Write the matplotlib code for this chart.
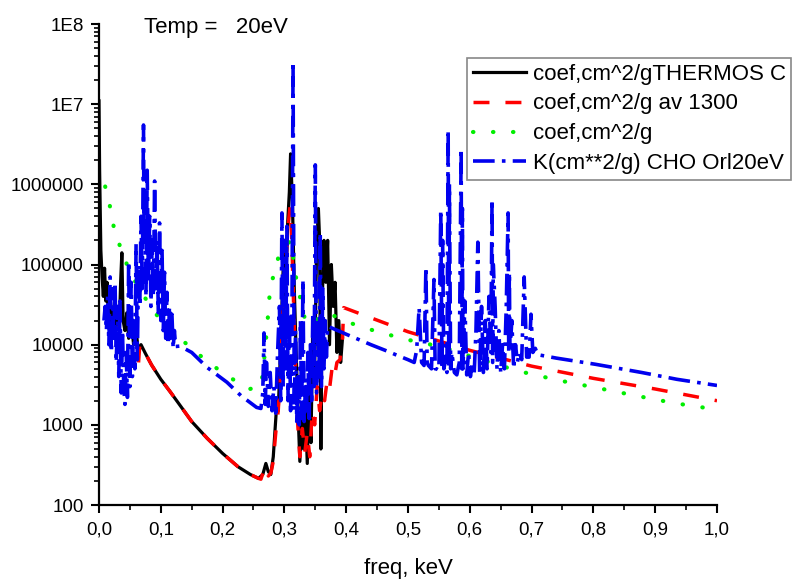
import numpy as np
import matplotlib
matplotlib.use('Agg')
import matplotlib.pyplot as plt
from matplotlib.ticker import FixedLocator, MultipleLocator, LogLocator, NullFormatter

plt.rcParams['font.family'] = ['Liberation Sans', 'DejaVu Sans']

# values, (freq keV, coef cm^2/g)
thermos = [(0.000, 1.1e7), (0.001, 1.5e6), (0.003, 1.5e5), (0.005, 7e4), (0.007, 4e4), (0.009, 9e4),
           (0.011, 3.5e4), (0.013, 6e4), (0.015, 2.5e4), (0.018, 4e4), (0.021, 1.8e4), (0.024, 3e4),
           (0.027, 1.5e4), (0.030, 2.5e4), (0.033, 1.8e4), (0.035, 6e4), (0.037, 1.4e5), (0.039, 2e4),
           (0.042, 1.5e4), (0.045, 2.5e4), (0.048, 1.2e4), (0.052, 2e4), (0.056, 1e4), (0.060, 1.5e4),
           (0.064, 8e3), (0.068, 1e4), (0.075, 7800), (0.085, 5600), (0.100, 3700), (0.115, 2600),
           (0.130, 1800), (0.150, 1100), (0.175, 680), (0.200, 440), (0.225, 300), (0.245, 240),
           (0.258, 215), (0.265, 240), (0.270, 330), (0.274, 260), (0.278, 240), (0.282, 400),
           (0.285, 900), (0.288, 2000), (0.290, 1500), (0.293, 6000), (0.296, 3e4), (0.299, 1.5e5),
           (0.302, 4e4), (0.305, 3e5), (0.308, 8e5), (0.310, 2.4e6), (0.313, 6e5), (0.316, 5e4),
           (0.319, 8000), (0.322, 1500), (0.325, 350), (0.328, 1200), (0.331, 500), (0.334, 1800),
           (0.337, 330), (0.340, 3000), (0.343, 600), (0.346, 2e4), (0.349, 5000), (0.352, 1.5e5),
           (0.355, 5e5), (0.357, 2e5), (0.359, 500), (0.361, 3e4), (0.364, 2e5), (0.367, 6e4),
           (0.370, 2e5), (0.373, 1e4), (0.376, 1e5), (0.379, 3e4), (0.382, 6e4), (0.385, 8000),
           (0.388, 2e4), (0.391, 6000), (0.394, 1.2e4)]

av1300 = [(0.064, 6000), (0.066, 10000), (0.075, 7800), (0.085, 5600), (0.100, 3700), (0.115, 2600),
          (0.130, 1800), (0.150, 1100), (0.175, 680), (0.200, 440), (0.225, 300), (0.245, 240),
          (0.258, 215), (0.262, 210), (0.266, 260), (0.270, 300), (0.274, 230), (0.278, 250),
          (0.282, 350), (0.286, 800), (0.290, 1500), (0.294, 5000), (0.298, 3e4), (0.302, 1e5),
          (0.306, 3e5), (0.309, 5.2e5), (0.312, 2e5), (0.315, 3e4), (0.318, 5000), (0.321, 1200),
          (0.325, 400), (0.329, 900), (0.333, 450), (0.337, 800), (0.341, 400), (0.345, 1500),
          (0.349, 1000), (0.353, 3000), (0.357, 1500), (0.361, 2500), (0.365, 2000), (0.369, 3500),
          (0.373, 2800), (0.377, 5000), (0.381, 4000), (0.385, 6000), (0.390, 6500), (0.394, 1.2e4),
          (0.396, 2.9e4), (0.500, 1.45e4), (0.600, 8500), (0.700, 5400), (0.800, 3800),
          (0.900, 2800), (1.000, 2000)]

coef = [(0.010, 9.4e5), (0.018, 5.2e5), (0.024, 2.9e5), (0.035, 1.6e5), (0.050, 8e4), (0.068, 4.6e4),
        (0.090, 2.5e4), (0.120, 1.45e4), (0.150, 8900), (0.180, 5800), (0.209, 4000), (0.244, 2800),
        (0.262, 3000), (0.266, 5100), (0.272, 1.65e4), (0.277, 5.2e4), (0.284, 8e4), (0.291, 1.3e5),
        (0.300, 1.6e5), (0.310, 2e5), (0.320, 6e4), (0.335, 1.8e4), (0.350, 2e4), (0.370, 2.5e4),
        (0.385, 2.2e4), (0.395, 2e4), (0.427, 1.65e4), (0.458, 1.4e4), (0.500, 1.15e4),
        (0.557, 9300), (0.600, 7200), (0.678, 4700), (0.743, 3600), (0.805, 2900), (0.870, 2300),
        (0.932, 1860), (1.000, 1550)]

cho = [(0.008, 2e4), (0.010, 3e4), (0.012, 1.5e4), (0.014, 4e4), (0.016, 1e4), (0.018, 7e4),
       (0.020, 8e3), (0.022, 5e4), (0.024, 1.2e4), (0.026, 6e4), (0.028, 6e3), (0.030, 3e4),
       (0.032, 4e3), (0.034, 3.5e4), (0.036, 2.5e3), (0.038, 1.5e4), (0.040, 3e3), (0.042, 1.8e3),
       (0.044, 8e3), (0.046, 2.2e3), (0.048, 1.1e5), (0.050, 3e3), (0.052, 6e4), (0.054, 4e3),
       (0.056, 2e4), (0.058, 5e3), (0.060, 1.8e5), (0.062, 6.5e3), (0.064, 1e5), (0.066, 3e4),
       (0.068, 4e5), (0.070, 5e4), (0.072, 5.5e6), (0.073, 2e5), (0.074, 8e5), (0.076, 4e4),
       (0.078, 1.5e6), (0.080, 6e4), (0.082, 4e5), (0.084, 3e4), (0.086, 2e5), (0.088, 4e4),
       (0.090, 1.1e6), (0.092, 5e4), (0.094, 2e5), (0.096, 2.5e4), (0.098, 3.3e5), (0.100, 2e4),
       (0.102, 1.5e5), (0.104, 1.5e4), (0.106, 8e4), (0.108, 1.2e4), (0.110, 4.5e4), (0.112, 1e4),
       (0.114, 3e4), (0.116, 1.2e4), (0.118, 2.4e4), (0.120, 9e3), (0.122, 1.5e4), (0.124, 9.5e3),
       (0.131, 9600), (0.150, 8000), (0.175, 5200), (0.207, 3400), (0.230, 2300), (0.255, 1650),
       (0.262, 1600), (0.265, 2500), (0.267, 1.4e4), (0.269, 1800), (0.271, 6000), (0.274, 1700),
       (0.277, 4500), (0.280, 1500), (0.283, 3000), (0.286, 1400), (0.289, 8000), (0.292, 3e4),
       (0.294, 2000), (0.296, 4.4e5), (0.298, 3e3), (0.300, 2e5), (0.302, 5000), (0.304, 3e5),
       (0.306, 2e3), (0.308, 2.5e4), (0.310, 1500), (0.312, 8000), (0.314, 3.4e7), (0.316, 1500),
       (0.318, 1.5e4), (0.320, 1100), (0.322, 4000), (0.324, 1000), (0.326, 2e4), (0.328, 1200),
       (0.330, 6.5e4), (0.332, 1100), (0.334, 3000), (0.336, 1500), (0.338, 8000), (0.340, 1200),
       (0.342, 1e4), (0.344, 2000), (0.346, 2.5e4), (0.348, 3000), (0.350, 1.75e6), (0.352, 2500),
       (0.354, 2e4), (0.356, 4000), (0.358, 2.5e5), (0.360, 3000), (0.362, 5e4), (0.364, 5000),
       (0.366, 2e4), (0.368, 7000), (0.370, 1.7e4), (0.400, 1.35e4), (0.440, 1e4), (0.470, 8100),
       (0.480, 7500), (0.500, 6500), (0.510, 6000), (0.514, 8500), (0.518, 2.9e4), (0.522, 6000),
       (0.526, 5500), (0.529, 9.3e4), (0.531, 6000), (0.533, 5500), (0.538, 5000), (0.542, 6.5e4),
       (0.544, 5000), (0.546, 5000), (0.550, 4800), (0.553, 4.8e5), (0.555, 5000), (0.556, 2e5),
       (0.558, 5000), (0.560, 6000), (0.563, 4500), (0.565, 4.8e6), (0.566, 5000), (0.567, 1e6),
       (0.569, 5000), (0.571, 8000), (0.575, 4500), (0.579, 4200), (0.583, 6000), (0.586, 2.8e6),
       (0.587, 5000), (0.588, 5e5), (0.589, 5000), (0.592, 3.5e4), (0.595, 4200), (0.598, 8000),
       (0.601, 4000), (0.604, 6000), (0.607, 4200), (0.610, 1.5e4), (0.613, 1.9e5), (0.616, 4200),
       (0.619, 3e4), (0.622, 4500), (0.625, 2e4), (0.628, 5000), (0.631, 4e4), (0.634, 8000),
       (0.636, 6.5e5), (0.637, 6000), (0.638, 1e5), (0.641, 3e4), (0.644, 5000), (0.647, 1.5e4),
       (0.650, 4500), (0.653, 1e4), (0.656, 5000), (0.659, 3e4), (0.662, 4.4e5), (0.663, 8000),
       (0.664, 8e4), (0.665, 8000), (0.668, 2e4), (0.671, 5000), (0.674, 1e4), (0.677, 6000),
       (0.680, 8000), (0.684, 6500), (0.688, 7e4), (0.692, 7000), (0.696, 7000), (0.699, 2.4e4),
       (0.702, 8000), (0.706, 9000), (0.710, 7500), (0.740, 6800), (0.803, 5700), (0.878, 4500),
       (0.935, 3700), (1.000, 3100)]

labels = ['coef,cm^2/gTHERMOS C', 'coef,cm^2/g av 1300', 'coef,cm^2/g', 'K(cm**2/g) CHO Orl20eV']
x_ticks = [0.0, 0.1, 0.2, 0.3, 0.4, 0.5, 0.6, 0.7, 0.8, 0.9, 1.0]
x_ticklabels = ['0,0', '0,1', '0,2', '0,3', '0,4', '0,5', '0,6', '0,7', '0,8', '0,9', '1,0']
y_ticks = [1e2, 1e3, 1e4, 1e5, 1e6, 1e7, 1e8]
y_ticklabels = ['100', '1000', '10000', '100000', '1000000', '1E7', '1E8']

fig = plt.figure(figsize=(7.92, 5.79), dpi=100)
ax = fig.add_axes([0.125, 0.1278, 0.7803, 0.8307])

tx, ty = np.array(thermos).T
ax.plot(tx, ty, color='black', lw=2.3, label=labels[0])
rx, ry = np.array(av1300).T
ax.plot(rx, ry, color='#ff0000', lw=2.5, ls=(0, (4.6, 4.6)), label=labels[1])
gx, gy = np.array(coef).T
ax.plot(gx, gy, color='#00ee00', lw=3.0, ls=(0, (0.1, 4.7)), dash_capstyle='round', label=labels[2])
bx, by = np.array(cho).T
ax.plot(bx, by, color='#0000ee', lw=2.6, ls=(0, (6, 2, 1, 2)), label=labels[3])

ax.set_yscale('log')
ax.set_xlim(0, 1.0)
ax.set_ylim(100, 1e8)

ax.xaxis.set_major_locator(FixedLocator(x_ticks))
ax.set_xticklabels(x_ticklabels)
ax.xaxis.set_minor_locator(MultipleLocator(0.05))
ax.yaxis.set_major_locator(FixedLocator(y_ticks))
ax.set_yticklabels(y_ticklabels)
ax.yaxis.set_minor_locator(LogLocator(base=10, subs=np.arange(2, 10)))
ax.yaxis.set_minor_formatter(NullFormatter())

for side in ['top', 'right']:
    ax.spines[side].set_visible(False)
for side in ['left', 'bottom']:
    ax.spines[side].set_linewidth(1.6)

ax.tick_params(which='major', direction='out', length=6, width=1.5, labelsize=13.5)
ax.tick_params(which='minor', direction='out', length=3.5, width=1.2)
ax.tick_params(axis='x', which='major', pad=6)
ax.tick_params(axis='y', which='major', pad=5)

ax.set_xlabel('freq, keV', fontsize=16, labelpad=14)
fig.text(216 / 792, 1 - 27 / 579, 'Temp =   20eV', fontsize=16, ha='center', va='center')

leg = ax.legend(loc='upper left', bbox_to_anchor=(467 / 792, 1 - 58 / 579), bbox_transform=fig.transFigure,
                borderaxespad=0, fontsize=16, frameon=True, fancybox=False, framealpha=1,
                handlelength=2.4, handletextpad=0.3, labelspacing=0.4, borderpad=0.25)
leg.get_frame().set_edgecolor('#888888')
leg.get_frame().set_linewidth(1.2)

fig.savefig('out.png', dpi=100)
